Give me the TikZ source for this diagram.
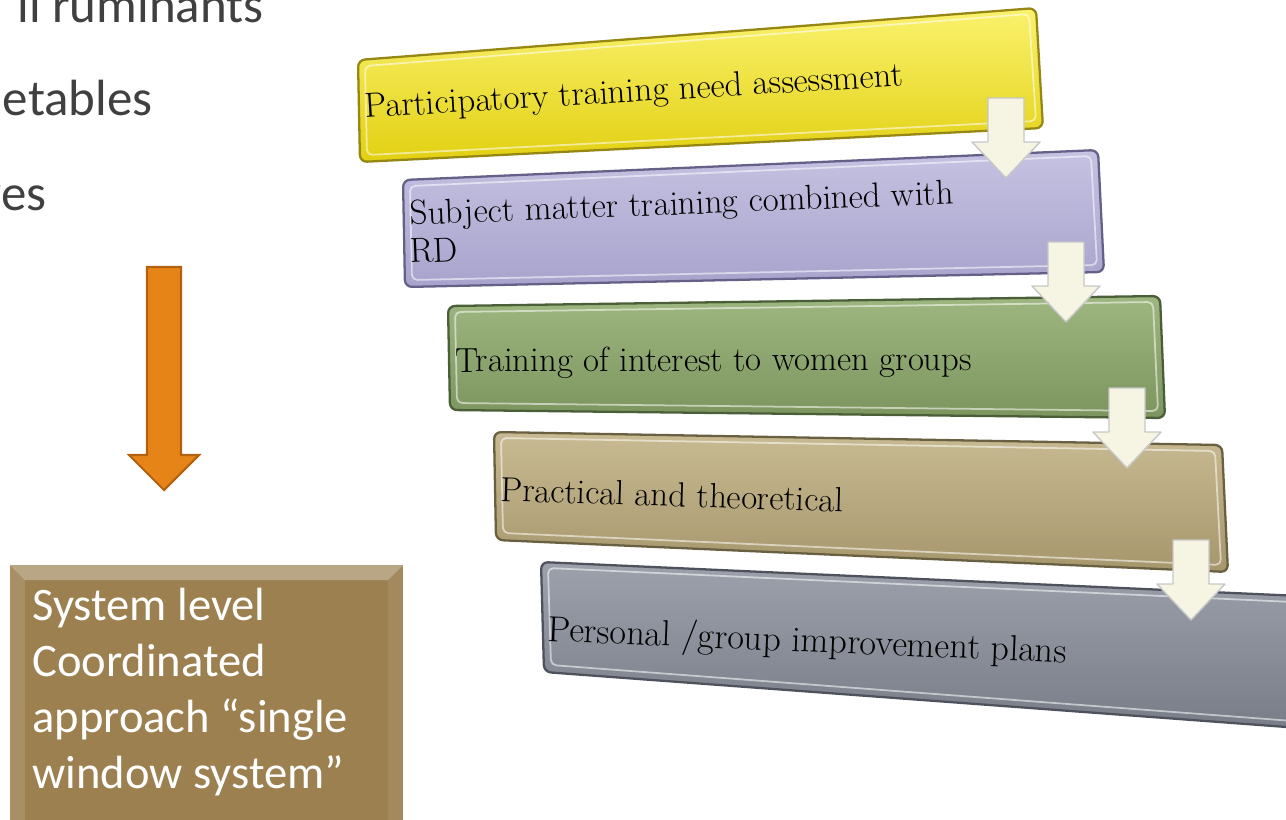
\documentclass[tikz,border=0pt]{standalone}
\usepackage{fontspec}
\newfontfamily\calibri{Carlito}
\usetikzlibrary{calc}

\definecolor{textgray}{RGB}{64,64,64}
\definecolor{yeltop}{RGB}{250,242,110}
\definecolor{yelbot}{RGB}{226,208,18}
\definecolor{yelline}{RGB}{150,135,20}
\definecolor{purtop}{RGB}{198,194,226}
\definecolor{purbot}{RGB}{168,163,204}
\definecolor{purline}{RGB}{100,96,135}
\definecolor{grntop}{RGB}{158,182,128}
\definecolor{grnbot}{RGB}{124,148,94}
\definecolor{grnline}{RGB}{74,94,55}
\definecolor{tantop}{RGB}{200,186,146}
\definecolor{tanbot}{RGB}{166,150,108}
\definecolor{tanline}{RGB}{105,95,65}
\definecolor{gratop}{RGB}{156,161,172}
\definecolor{grabot}{RGB}{120,125,136}
\definecolor{graline}{RGB}{78,82,92}
\definecolor{arrowcream}{RGB}{246,244,226}
\definecolor{orangefill}{RGB}{230,132,24}
\definecolor{orangeline}{RGB}{178,98,14}
\definecolor{boxbrown}{RGB}{156,128,80}

\begin{document}
\begin{tikzpicture}[x=0.02cm, y=-0.02cm,
  bar/.style n args={3}{top color=#1, bottom color=#2, draw=#3, line width=1.3pt, line join=round, rounded corners=4pt},
  barshadow/.style={fill=black, opacity=0.12, rounded corners=4pt, shift={(4,6)}},
  barshine/.style={draw=white, opacity=0.55, line width=1pt, rounded corners=3pt},
  barlabel/.style={anchor=base west, inner sep=0pt, font=\fontsize{19.8}{23}\selectfont},
  flowarrow/.style={draw=black!22, fill=arrowcream, line width=0.8pt, line join=round},
  sidetext/.style={anchor=base east, inner sep=0pt, text=textgray, font=\calibri\fontsize{29}{35}\selectfont}]

\useasboundingbox (0,0) rectangle (1286,819);

% text cut at the left edge
\node[sidetext] (rum) at (264,22) {ll ruminants};
\node[sidetext] (veg) at (153,115) {etables};
\node[sidetext] (liv) at (47,210) {ves};

% orange arrow
\coordinate (dn) at (164,267);
\draw[fill=orangefill, draw=orangeline, line width=1.2pt, line join=miter]
  ($(dn)+(-17,0)$) -- ++(34,0) -- ++(0,188) -- ++(18,0) -- ++(-35,35) -- ++(-35,-35) -- ++(18,0) -- cycle;

% system box
\fill[boxbrown] (10,565) rectangle (403,830);
\fill[white, opacity=0.30] (10,565) -- (403,565) -- (388,580) -- (25,580) -- cycle;
\fill[white, opacity=0.12] (10,565) -- (25,580) -- (25,830) -- (10,830) -- cycle;
\fill[white, opacity=0.08] (403,565) -- (388,580) -- (388,830) -- (403,830) -- cycle;
\node[anchor=north west, inner sep=0pt, align=left, text=white,
  font=\calibri\fontsize{26.5}{31.8}\selectfont] (sys) at (32,588)
  {System level\\Coordinated\\approach “single\\window system”};

% bars
\coordinate (b1tl) at (358,60);
\coordinate (b1tr) at (1036,8);
\coordinate (b1br) at (1043,128);
\coordinate (b1bl) at (360,162);

\coordinate (b2tl) at (403,180);
\coordinate (b2tr) at (1098,150);
\coordinate (b2br) at (1104,272);
\coordinate (b2bl) at (405,287);

\coordinate (b3tl) at (448,306);
\coordinate (b3tr) at (1160,296);
\coordinate (b3br) at (1165,418);
\coordinate (b3bl) at (450,410);

\coordinate (b4tl) at (494,432);
\coordinate (b4tr) at (1222,445);
\coordinate (b4br) at (1228,572);
\coordinate (b4bl) at (496,540);

\coordinate (b5tl) at (541,562);
\coordinate (b5tr) at (1300,596);
\coordinate (b5br) at (1300,728);
\coordinate (b5bl) at (544,672);

\fill[barshadow] (b1tl) -- (b1tr) -- (b1br) -- (b1bl) -- cycle;
\path[bar={yeltop}{yelbot}{yelline}] (b1tl) -- (b1tr) -- (b1br) -- (b1bl) -- cycle;
\draw[barshine] ($(b1tl)+(7,6)$) -- ($(b1tr)+(-7,6)$) -- ($(b1br)+(-7,-7)$) -- ($(b1bl)+(7,-7)$) -- cycle;

\fill[barshadow] (b2tl) -- (b2tr) -- (b2br) -- (b2bl) -- cycle;
\path[bar={purtop}{purbot}{purline}] (b2tl) -- (b2tr) -- (b2br) -- (b2bl) -- cycle;
\draw[barshine] ($(b2tl)+(7,6)$) -- ($(b2tr)+(-7,6)$) -- ($(b2br)+(-7,-7)$) -- ($(b2bl)+(7,-7)$) -- cycle;

\fill[barshadow] (b3tl) -- (b3tr) -- (b3br) -- (b3bl) -- cycle;
\path[bar={grntop}{grnbot}{grnline}] (b3tl) -- (b3tr) -- (b3br) -- (b3bl) -- cycle;
\draw[barshine] ($(b3tl)+(7,6)$) -- ($(b3tr)+(-7,6)$) -- ($(b3br)+(-7,-7)$) -- ($(b3bl)+(7,-7)$) -- cycle;

\fill[barshadow] (b4tl) -- (b4tr) -- (b4br) -- (b4bl) -- cycle;
\path[bar={tantop}{tanbot}{tanline}] (b4tl) -- (b4tr) -- (b4br) -- (b4bl) -- cycle;
\draw[barshine] ($(b4tl)+(7,6)$) -- ($(b4tr)+(-7,6)$) -- ($(b4br)+(-7,-7)$) -- ($(b4bl)+(7,-7)$) -- cycle;

\fill[barshadow] (b5tl) -- (b5tr) -- (b5br) -- (b5bl) -- cycle;
\path[bar={gratop}{grabot}{graline}] (b5tl) -- (b5tr) -- (b5br) -- (b5bl) -- cycle;
\draw[barshine] ($(b5tl)+(7,6)$) -- ($(b5tr)+(-7,6)$) -- ($(b5br)+(-7,-7)$) -- ($(b5bl)+(7,-7)$) -- cycle;

% bar texts
\node[barlabel, rotate=3.4] (t1) at (365,118) {Participatory training need assessment};
\node[barlabel, rotate=2.2] (t2) at (410,225) {Subject matter training combined with};
\node[barlabel, rotate=2.2] (t2b) at (410,263) {RD};
\node[barlabel, rotate=0.2] (t3) at (455,372) {Training of interest to women groups};
\node[barlabel, rotate=-1.8] (t4) at (500,501) {Practical and theoretical};
\node[barlabel, rotate=-2.4, font=\fontsize{20.6}{24}\selectfont] (t5) at (547,641) {Personal /group improvement plans};

% arrows between the bars
\coordinate (a1) at (1006,98);
\coordinate (a2) at (1066,242);
\coordinate (a3) at (1127,388);
\coordinate (a4) at (1191,540);

\draw[flowarrow] ($(a1)+(-18,0)$) -- ++(36,0) -- ++(0,44) -- ++(16,0) -- ++(-34,36) -- ++(-34,-36) -- ++(16,0) -- cycle;
\draw[flowarrow] ($(a2)+(-18,0)$) -- ++(36,0) -- ++(0,44) -- ++(16,0) -- ++(-34,36) -- ++(-34,-36) -- ++(16,0) -- cycle;
\draw[flowarrow] ($(a3)+(-18,0)$) -- ++(36,0) -- ++(0,44) -- ++(16,0) -- ++(-34,36) -- ++(-34,-36) -- ++(16,0) -- cycle;
\draw[flowarrow] ($(a4)+(-18,0)$) -- ++(36,0) -- ++(0,44) -- ++(16,0) -- ++(-34,36) -- ++(-34,-36) -- ++(16,0) -- cycle;

\end{tikzpicture}
\end{document}
